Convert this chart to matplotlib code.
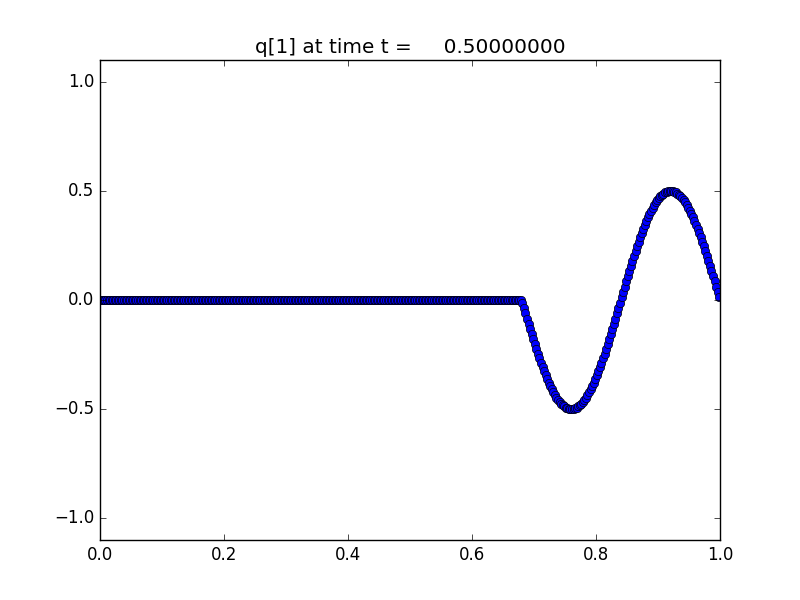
import matplotlib
matplotlib.use("Agg")
import matplotlib.pyplot as plt
import numpy as np

plt.style.use("classic")

# cell centres on a 400 cell grid over [0, 1]
x = np.linspace(0.00125, 0.99875, 400)

# q[1] is zero up to x ~ 0.68
q_flat = [0.0] * 272

# wave part, x = 0.68125 ... 0.99875
q_wave = [
    -0.012, -0.037, -0.061, -0.085, -0.110, -0.133, -0.157, -0.180,
    -0.203, -0.225, -0.246, -0.268, -0.288, -0.308, -0.327, -0.345,
    -0.362, -0.379, -0.394, -0.409, -0.422, -0.435, -0.447, -0.457,
    -0.466, -0.475, -0.482, -0.488, -0.493, -0.496, -0.499, -0.500,
    -0.500, -0.499, -0.496, -0.493, -0.488, -0.482, -0.475, -0.466,
    -0.457, -0.447, -0.435, -0.422, -0.409, -0.394, -0.379, -0.362,
    -0.345, -0.327, -0.308, -0.288, -0.268, -0.246, -0.225, -0.203,
    -0.180, -0.157, -0.133, -0.110, -0.085, -0.061, -0.037, -0.012,
    0.012, 0.037, 0.061, 0.085, 0.110, 0.133, 0.157, 0.180,
    0.203, 0.225, 0.246, 0.268, 0.288, 0.308, 0.327, 0.345,
    0.362, 0.379, 0.394, 0.409, 0.422, 0.435, 0.447, 0.457,
    0.466, 0.475, 0.482, 0.488, 0.493, 0.496, 0.499, 0.500,
    0.500, 0.499, 0.496, 0.493, 0.488, 0.482, 0.475, 0.466,
    0.457, 0.447, 0.435, 0.422, 0.409, 0.394, 0.379, 0.362,
    0.345, 0.327, 0.308, 0.288, 0.268, 0.246, 0.225, 0.203,
    0.180, 0.157, 0.133, 0.110, 0.085, 0.061, 0.037, 0.012,
]
q = np.array(q_flat + q_wave)

t = 0.5

fig = plt.figure(figsize=(8, 6), dpi=100)
ax = fig.add_subplot(111)
ax.plot(x, q, "bo", markeredgecolor="k", markeredgewidth=0.5, markersize=6)
ax.set_xlim(0, 1)
ax.set_ylim(-1.1, 1.1)
ax.set_yticks([-1.0, -0.5, 0.0, 0.5, 1.0])
ax.set_title("q[1] at time t = %14.8f" % t)
fig.savefig("out.png", dpi=100, facecolor="white")
